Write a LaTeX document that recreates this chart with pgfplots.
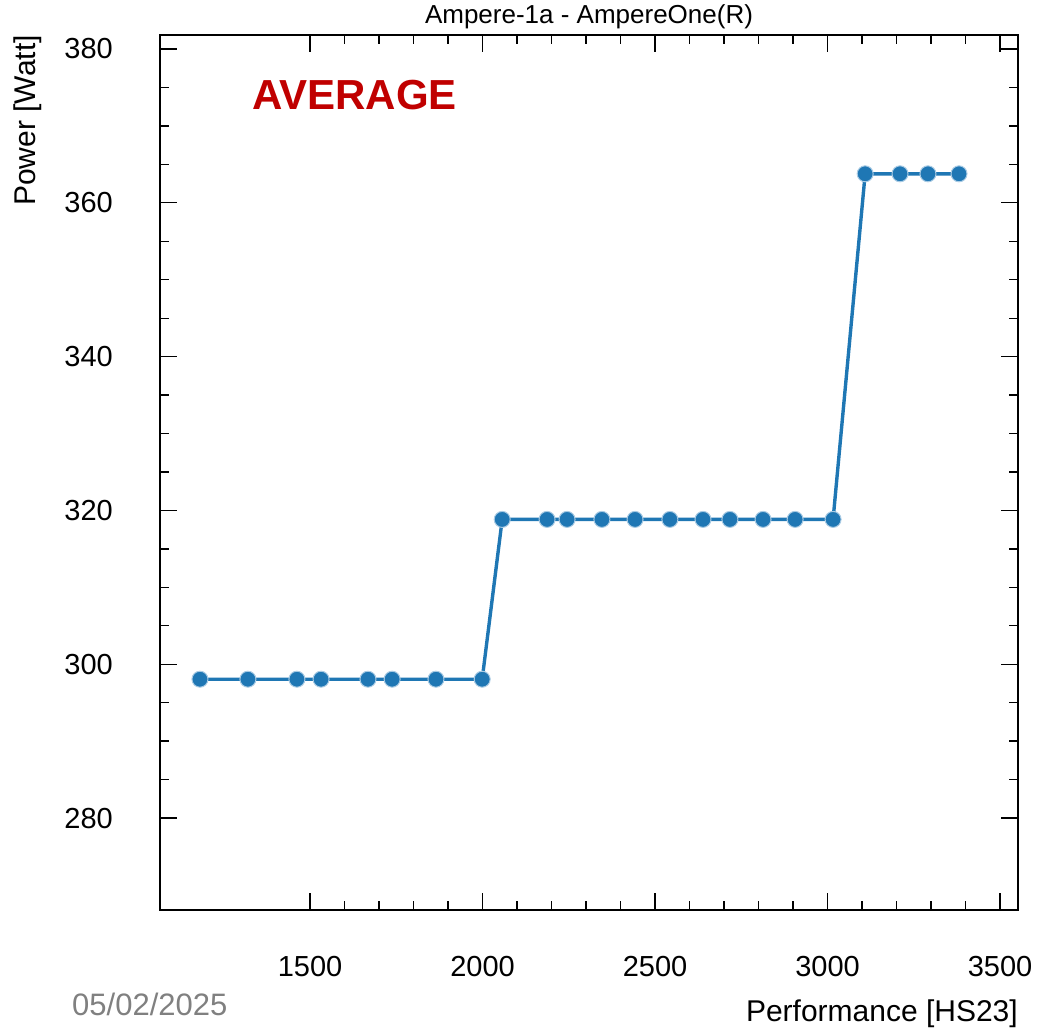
\documentclass[border=0pt]{standalone}
\usepackage{fontspec}
\setmainfont{Liberation Sans}
\usepackage{pgfplots}
\pgfplotsset{compat=1.18}
\definecolor{mblue}{HTML}{1F77B4}
\definecolor{medge}{HTML}{A9CBE4}
\definecolor{avred}{HTML}{C00000}
\begin{document}
\begin{tikzpicture}[x=1pt,y=1pt]
\useasboundingbox (0,0) rectangle (1043,1029);
\begin{axis}[
  at={(160pt,119pt)}, anchor=south west,
  scale only axis, width=858pt, height=875pt,
  xmin=1065.2, xmax=3552, ymin=268.04, ymax=381.82,
  xtick={1500,2000,2500,3000,3500},
  ytick={280,300,320,340,360,380},
  minor x tick num=4, minor y tick num=3,
  tick align=inside,
  major tick length=17pt, minor tick length=9pt,
  axis line style={line width=1.6pt},
  every tick/.style={black, line width=1.3pt},
  /pgf/number format/assume math mode=true,
  /pgf/number format/1000 sep={},
  tick label style={font=\fontsize{29}{32}\selectfont, inner sep=0pt},
  xticklabel style={anchor=north, yshift=-46pt},
  yticklabel style={anchor=east, xshift=-47pt},
  clip=false,
]
\addplot[mblue, line width=3.4pt, mark=*, mark size=8pt,
  mark options={fill=mblue, draw=medge, line width=1pt}]
  coordinates {
  (1181,298.05) (1320,298.05) (1462,298.05) (1532,298.05) (1668,298.05)
  (1738,298.05) (1865,298.05) (1999,298.05)
  (2057,318.83) (2187,318.83) (2245,318.83) (2346,318.83) (2442,318.83)
  (2543,318.83) (2639,318.83) (2717,318.83) (2813,318.83) (2906,318.83)
  (3016,318.83)
  (3109,363.77) (3210,363.77) (3291,363.77) (3381,363.77)
  };
\end{axis}
\node[anchor=center, font=\fontsize{26}{28}\selectfont] at (589,1012) {Ampere-1a - AmpereOne(R)};
\node[anchor=west, inner sep=0pt, text=avred, font=\fontsize{42}{46}\selectfont\bfseries] at (252,934) {AVERAGE};
\node[rotate=90, anchor=east, inner sep=0pt, font=\fontsize{30}{33}\selectfont] at (28,994) {Power [Watt]};
\node[anchor=east, inner sep=0pt, font=\fontsize{30}{33}\selectfont] at (1018,15) {Performance [HS23]};
\node[anchor=west, inner sep=0pt, text=gray, font=\fontsize{31}{34}\selectfont] at (72,25) {05/02/2025};
\end{tikzpicture}
\end{document}
